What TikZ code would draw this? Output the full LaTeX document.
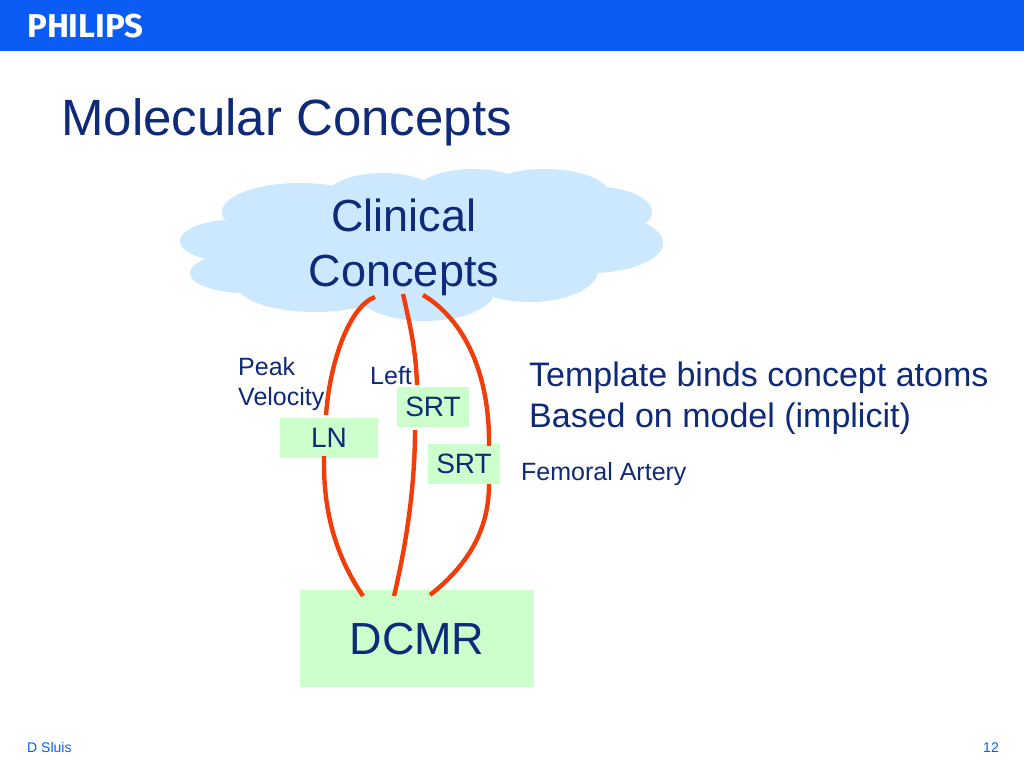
\documentclass[tikz,border=0pt]{standalone}
\usepackage{fontspec}
\setmainfont{Liberation Sans}
\newfontfamily\logofont{Fira Sans}
\definecolor{philblue}{HTML}{0A5CF5}
\definecolor{navy}{HTML}{0E2A78}
\definecolor{cloudblue}{HTML}{CCE8FF}
\definecolor{boxgreen}{HTML}{CCFFCC}
\definecolor{linkred}{HTML}{F23C0A}
\tikzset{
  txt/.style={text=navy,inner sep=0pt,align=left},
  gbox/.style={fill=boxgreen,draw=none,inner sep=0pt,text=navy},
  link/.style={draw=linkred,line width=4.4pt,line cap=butt},
  puff/.style={fill=cloudblue,draw=none}
}
\newcommand{\fs}[1]{\fontsize{#1}{#1}\selectfont}
\begin{document}
\begin{tikzpicture}[x=1pt,y=-1pt]
\useasboundingbox (0,0) rectangle (1024,768);
\fill[white] (0,0) rectangle (1024,768);
\fill[philblue] (0,0) rectangle (1024,51);
\node[anchor=west,inner sep=0pt,text=white] (logo) at (27,26) {\fs{33}\logofont\bfseries PHILIPS};
\node[txt,anchor=west] (title) at (61,122) {\fs{51}Molecular Concepts};
% cloud
\fill[puff] (300,212) ellipse [x radius=78,y radius=29];
\fill[puff] (383,200) ellipse [x radius=60,y radius=27];
\fill[puff] (473,195) ellipse [x radius=60,y radius=26];
\fill[puff] (545,195) ellipse [x radius=65,y radius=26];
\fill[puff] (590,212) ellipse [x radius=62,y radius=26];
\fill[puff] (590,243) ellipse [x radius=73,y radius=30];
\fill[puff] (530,270) ellipse [x radius=68,y radius=32];
\fill[puff] (425,290) ellipse [x radius=70,y radius=31];
\fill[puff] (315,285) ellipse [x radius=78,y radius=27];
\fill[puff] (245,273) ellipse [x radius=55,y radius=20];
\fill[puff] (240,241) ellipse [x radius=60,y radius=22];
\fill[puff] (420,245) ellipse [x radius=160,y radius=50];
\node[txt,align=center,font=\fontsize{45}{55}\selectfont] (cloud) at (404,247) {Clinical\\Concepts};
% boxes
\node[gbox,minimum width=98pt,minimum height=40pt] (ln) at (329,438) {\fs{28}LN};
\node[gbox,minimum width=72pt,minimum height=40pt] (srta) at (433,407) {\fs{28}SRT};
\node[gbox,minimum width=72pt,minimum height=40pt] (srtb) at (464,464) {\fs{28}SRT};
\node[gbox,minimum width=234pt,minimum height=97pt] (dcmr) at (417,638.5) {\fs{45}DCMR};
% connector ends
\coordinate (ca) at (375,297);
\coordinate (cb) at (403,294);
\coordinate (cc) at (423,295);
\coordinate (da) at (363,596);
\coordinate (db) at (394,596);
\coordinate (dc) at (430,595);
\coordinate (lnt) at (326,415);
\coordinate (lnb) at (324,456);
\coordinate (sat) at (417,385);
\coordinate (sab) at (415,430);
\coordinate (sbt) at (489,446);
\coordinate (sbb) at (489,484);
\draw[link] (ca) .. controls (350,306) and (330,360) .. (lnt);
\draw[link] (lnb) .. controls (323,510) and (335,555) .. (da);
\draw[link] (cb) .. controls (410,325) and (416,350) .. (sat);
\draw[link] (sab) .. controls (415,490) and (405,550) .. (db);
\draw[link] (cc) .. controls (465,320) and (490,375) .. (sbt);
\draw[link] (sbb) .. controls (489,530) and (468,565) .. (dc);
% labels
\node[txt,anchor=north west,font=\fontsize{25}{30}\selectfont] (peak) at (238,357) {Peak\\Velocity};
\node[txt,anchor=west] (left) at (370,376) {\fs{25}Left};
\node[txt,anchor=west] (fem) at (521,474) {\fs{25}Femoral Artery};
\node[txt,anchor=west] (t1) at (529,378) {\fs{34}Template binds concept atoms};
\node[txt,anchor=west] (t2) at (529,419) {\fs{34}Based on model (implicit)};
\node[txt,anchor=west,text=philblue] (author) at (27,747) {\fs{14}D Sluis};
\node[txt,anchor=east,text=philblue] (page) at (999,748) {\fs{14}12};
\end{tikzpicture}
\end{document}
